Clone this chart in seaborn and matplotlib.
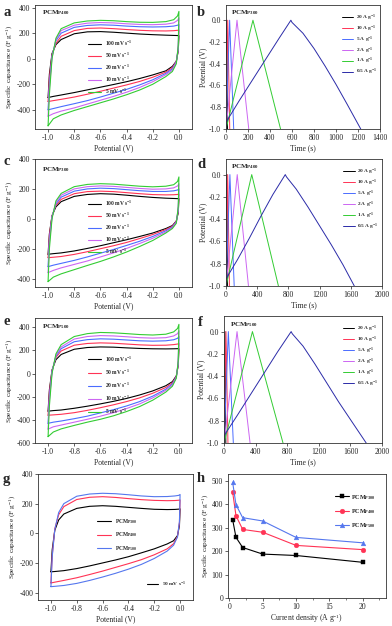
import numpy as np
import pandas as pd
import matplotlib
matplotlib.use("Agg")
import matplotlib.pyplot as plt
from matplotlib.ticker import MultipleLocator
import seaborn as sns

# --------------------------------------------------
# DATA
# --------------------------------------------------
# CV potentials: forward (upper) branch and reverse (lower) branch
E_UP = [-1.0, -0.99, -0.97, -0.94, -0.9, -0.8, -0.7, -0.6, -0.5, -0.4, -0.3, -0.2, -0.1, -0.04, -0.01, 0.0]
E_DN = [0.0, -0.005, -0.02, -0.05, -0.1, -0.2, -0.3, -0.4, -0.5, -0.6, -0.7, -0.8, -0.9, -0.96, -1.0]

scanRates = ["100", "50", "20", "10", "5"]
cvColors = ["#000000", "#ff3355", "#4a6cff", "#cc66f2", "#33cc33"]

# panel a (PCM P400)
cvA_up = [
    [-304, -120, 40, 110, 150, 195, 210, 212, 207, 200, 193, 188, 184, 182, 181, 180],
    [-335, -150, 30, 120, 175, 220, 237, 240, 235, 228, 222, 218, 217, 219, 222, 225],
    [-400, -200, 20, 140, 200, 245, 260, 265, 262, 255, 250, 248, 250, 255, 262, 268],
    [-450, -230, 10, 150, 220, 262, 278, 283, 280, 273, 268, 266, 270, 280, 300, 320],
    [-525, -280, 0, 160, 235, 280, 295, 300, 297, 290, 285, 284, 290, 305, 335, 370],
]
cvA_dn = [
    [180, 60, -20, -60, -95, -127, -155, -180, -202, -223, -244, -265, -284, -295, -304],
    [225, 70, -20, -70, -105, -145, -178, -205, -230, -255, -278, -300, -318, -328, -335],
    [268, 80, -25, -80, -115, -165, -205, -240, -270, -300, -328, -352, -375, -390, -400],
    [320, 90, -30, -90, -125, -180, -225, -262, -295, -325, -355, -385, -410, -430, -450],
    [370, 100, -40, -100, -140, -200, -245, -282, -315, -345, -375, -405, -440, -470, -525],
]
# panel c (PCM P300)
cvC_up = [
    [-237, -100, 20, 80, 115, 150, 163, 168, 165, 158, 150, 143, 138, 136, 135, 135],
    [-260, -110, 20, 90, 130, 168, 182, 185, 182, 175, 168, 162, 160, 161, 163, 165],
    [-320, -140, 15, 100, 145, 185, 200, 205, 202, 195, 188, 183, 183, 187, 193, 200],
    [-360, -160, 10, 110, 158, 200, 215, 220, 217, 210, 203, 198, 200, 207, 220, 235],
    [-420, -200, 0, 120, 170, 215, 230, 235, 232, 225, 218, 214, 218, 228, 250, 280],
]
cvC_dn = [
    [135, 40, -15, -45, -65, -95, -118, -140, -160, -180, -198, -215, -228, -233, -237],
    [165, 50, -15, -50, -72, -105, -132, -158, -180, -200, -220, -238, -252, -257, -260],
    [200, 60, -20, -55, -80, -118, -150, -178, -205, -230, -255, -278, -298, -310, -320],
    [235, 70, -25, -60, -88, -130, -165, -198, -228, -255, -282, -305, -328, -345, -360],
    [280, 80, -30, -65, -95, -145, -185, -222, -255, -285, -312, -340, -368, -390, -420],
]
# panel e (PCM P500)
cvE_up = [
    [-325, -140, 30, 120, 165, 210, 225, 230, 228, 222, 217, 214, 213, 214, 215, 215],
    [-360, -160, 25, 140, 195, 245, 260, 265, 262, 255, 248, 244, 245, 250, 255, 260],
    [-430, -200, 20, 150, 215, 275, 293, 300, 297, 290, 283, 280, 283, 292, 305, 320],
    [-480, -230, 10, 160, 230, 298, 320, 328, 325, 318, 310, 306, 310, 325, 345, 370],
    [-545, -280, 0, 170, 250, 320, 345, 355, 352, 345, 337, 333, 340, 360, 390, 425],
]
cvE_dn = [
    [215, 70, -20, -70, -105, -150, -185, -215, -240, -262, -282, -300, -315, -320, -325],
    [260, 80, -25, -80, -120, -170, -210, -242, -270, -295, -318, -338, -352, -357, -360],
    [320, 90, -30, -90, -135, -195, -242, -280, -312, -340, -368, -390, -410, -420, -430],
    [370, 100, -35, -100, -145, -210, -262, -302, -338, -368, -395, -420, -445, -460, -480],
    [425, 110, -40, -110, -160, -230, -285, -328, -365, -395, -420, -448, -478, -505, -545],
]
# panel g: 50 mV/s comparison of the three samples
cvG_up = [
    [-260, -110, 20, 90, 130, 168, 182, 186, 182, 175, 168, 162, 160, 161, 163, 165],
    [-335, -150, 30, 125, 180, 228, 243, 247, 242, 234, 227, 222, 220, 221, 223, 225],
    [-360, -160, 25, 140, 200, 250, 265, 270, 267, 260, 252, 247, 248, 252, 256, 262],
]
cvG_dn = [
    [165, 50, -15, -50, -72, -105, -132, -158, -180, -200, -220, -238, -252, -257, -260],
    [225, 70, -20, -70, -105, -145, -178, -205, -230, -255, -278, -300, -318, -328, -335],
    [262, 80, -25, -80, -120, -170, -210, -242, -270, -295, -318, -338, -352, -357, -360],
]
samples = ["P300", "P400", "P500"]
sampleColors = ["#000000", "#ff3355", "#5577ee"]

# GCD: currents, charge peak time and discharge end time (s)
currents = ["20", "10", "5", "2", "1", "0.5"]
gcdColors = ["#000000", "#ff3355", "#4a6cff", "#cc66f2", "#33cc33", "#2b2ba8"]
gcdB_peak = [6, 16, 33, 100, 245]
gcdB_end = [14, 34, 70, 207, 496]
gcdD_peak = [10, 22, 50, 144, 330]
gcdD_end = [20, 44, 105, 288, 672]
gcdF_peak = [12, 25, 55, 165, 360]
gcdF_end = [23, 50, 118, 330, 747]
# 0.5 A/g curves (slightly curved)
slowB_t = [0, 5, 120, 240, 360, 480, 590, 600, 700, 800, 900, 1000, 1100, 1225]
slowB_v = [-1.0, -0.93, -0.74, -0.55, -0.36, -0.17, 0.0, -0.02, -0.12, -0.26, -0.42, -0.59, -0.77, -1.0]
slowD_t = [0, 5, 150, 300, 450, 600, 760, 775, 900, 1050, 1200, 1350, 1500, 1645]
slowD_v = [-1.0, -0.93, -0.76, -0.57, -0.37, -0.18, 0.0, -0.02, -0.13, -0.29, -0.46, -0.63, -0.81, -1.0]
slowF_t = [0, 5, 170, 340, 510, 680, 850, 865, 1000, 1150, 1300, 1450, 1620, 1800]
slowF_v = [-1.0, -0.93, -0.75, -0.56, -0.37, -0.18, 0.0, -0.02, -0.13, -0.29, -0.46, -0.63, -0.81, -1.0]

# rate capability
currentDensity = [0.5, 1, 2, 5, 10, 20]
capP300 = [333, 258, 215, 187, 181, 152]
capP400 = [450, 350, 292, 280, 224, 206]
capP500 = [492, 397, 342, 328, 258, 235]

# --------------------------------------------------
# STYLE
# --------------------------------------------------
sns.set_theme(style="ticks")
plt.rcParams["font.family"] = ["Liberation Serif", "DejaVu Serif"]
plt.rcParams["mathtext.fontset"] = "custom"
plt.rcParams["mathtext.rm"] = "Liberation Serif"
plt.rcParams["mathtext.bf"] = "Liberation Serif:bold"
plt.rcParams["mathtext.it"] = "Liberation Serif:italic"
plt.rcParams["axes.unicode_minus"] = False

W, H = 392, 626
fig = plt.figure(figsize=(W / 100, H / 100), dpi=100)


def addAxes(left, right, top, bottom):
    return fig.add_axes([left / W, 1 - bottom / H, (right - left) / W, (bottom - top) / H])


def styleAxes(ax):
    for s in ax.spines.values():
        s.set_linewidth(0.6)
        s.set_color("#333333")
    ax.tick_params(labelsize=5.5, width=0.5, length=2, pad=1.5, direction="out", colors="#222222")
    ax.tick_params(which="minor", width=0.4, length=1.2, direction="out", colors="#222222")


def cvPanel(ax, ups, dns, labels, colors, ylim, yticks):
    for up, dn, lab, col in zip(ups, dns, labels, colors):
        df = pd.DataFrame({"E": E_UP + E_DN, "j": up + dn})
        sns.lineplot(data=df, x="E", y="j", sort=False, estimator=None, color=col,
                     lw=0.8, ax=ax, label=lab)
    ax.set_xlim(-1.1, 0.1)
    ax.set_xticks([-1.0, -0.8, -0.6, -0.4, -0.2, 0.0])
    ax.set_xticklabels(["-1.0", "-0.8", "-0.6", "-0.4", "-0.2", "0.0"])
    ax.set_ylim(*ylim)
    ax.set_yticks(yticks)
    ax.set_xlabel("Potential (V)", fontsize=5.5, labelpad=2)
    ax.set_ylabel("Specific capacitance (F g$^{-1}$)", fontsize=5.3, labelpad=1.5)
    styleAxes(ax)


def gcdPanel(ax, peaks, ends, slowT, slowV, xmax, xstep):
    for pk, en, cur, col in zip(peaks, ends, currents[:-1], gcdColors[:-1]):
        df = pd.DataFrame({"t": [0, pk, en], "V": [-1.0, 0.0, -1.0]})
        sns.lineplot(data=df, x="t", y="V", sort=False, estimator=None, color=col,
                     lw=0.7, ax=ax, label=cur + " A g$^{\\mathbf{-1}}$")
    df = pd.DataFrame({"t": slowT, "V": slowV})
    sns.lineplot(data=df, x="t", y="V", sort=False, estimator=None, color=gcdColors[-1],
                 lw=0.7, ax=ax, label=currents[-1] + " A g$^{\\mathbf{-1}}$")
    ax.set_xlim(0, xmax)
    ax.set_xticks(np.arange(0, xmax + 1, xstep))
    ax.set_ylim(-1.0, 0.14)
    ax.set_yticks([-1.0, -0.8, -0.6, -0.4, -0.2, 0.0])
    ax.set_yticklabels(["-1.0", "-0.8", "-0.6", "-0.4", "-0.2", "0.0"])
    ax.set_xlabel("Time (s)", fontsize=5.5, labelpad=2)
    ax.set_ylabel("Potential (V)", fontsize=5.5, labelpad=1.5)
    styleAxes(ax)
    ax.legend(loc="upper left", bbox_to_anchor=(0.75, 0.94), frameon=False,
              prop={"size": 3.8, "weight": "bold"}, handlelength=2.2, handletextpad=0.5,
              labelspacing=0.12, borderpad=0, borderaxespad=0)


cvLabels = [r + " mV s$^{\\mathbf{-1}}$" for r in scanRates]
cvLegend = dict(loc="upper left", frameon=False, prop={"size": 4.0, "weight": "bold"},
                handlelength=2.2, handletextpad=0.8, borderpad=0, borderaxespad=0)

# a
axA = addAxes(35, 192, 5, 129)
cvPanel(axA, cvA_up, cvA_dn, cvLabels, cvColors, (-550, 420), [-400, -200, 0, 200, 400])
axA.legend(bbox_to_anchor=(0.34, 0.73), labelspacing=0.5, **cvLegend)
axA.text(0.045, 0.975, r"PCM$_{\mathbf{P400}}$", transform=axA.transAxes, fontsize=5,
         fontweight="bold", va="top")

# b
axB = addAxes(226, 380, 5, 129)
gcdPanel(axB, gcdB_peak, gcdB_end, slowB_t, slowB_v, 1400, 200)
axB.text(0.035, 0.975, r"PCM$_{\mathbf{P300}}$", transform=axB.transAxes, fontsize=5,
         fontweight="bold", va="top")

# c
axC = addAxes(35, 192, 159, 287)
cvPanel(axC, cvC_up, cvC_dn, cvLabels, cvColors, (-456, 400), [-400, -200, 0, 200, 400])
axC.legend(bbox_to_anchor=(0.34, 0.69), labelspacing=0.5, **cvLegend)
axC.text(0.045, 0.95, r"PCM$_{\mathbf{P300}}$", transform=axC.transAxes, fontsize=5,
         fontweight="bold", va="top")

# d
axD = addAxes(226, 382, 159, 286)
gcdPanel(axD, gcdD_peak, gcdD_end, slowD_t, slowD_v, 2000, 400)
axD.text(0.035, 0.975, r"PCM$_{\mathbf{P400}}$", transform=axD.transAxes, fontsize=5,
         fontweight="bold", va="top")

# e
axE = addAxes(35, 192, 318, 443)
cvPanel(axE, cvE_up, cvE_dn, cvLabels, cvColors, (-600, 480), [-600, -400, -200, 0, 200, 400])
axE.legend(bbox_to_anchor=(0.34, 0.71), labelspacing=0.7, **cvLegend)
axE.text(0.045, 0.97, r"PCM$_{\mathbf{P500}}$", transform=axE.transAxes, fontsize=5,
         fontweight="bold", va="top")

# f
axF = addAxes(224, 382, 316, 443)
gcdPanel(axF, gcdF_peak, gcdF_end, slowF_t, slowF_v, 2000, 400)
axF.text(0.04, 0.97, r"PCM$_{\mathbf{P500}}$", transform=axF.transAxes, fontsize=5,
         fontweight="bold", va="top")

# g
axG = addAxes(38, 193, 474, 600)
sampleLabels = ["PCM$_{\\mathbf{" + s + "}}$" for s in samples]
cvPanel(axG, cvG_up, cvG_dn, sampleLabels, sampleColors, (-450, 400), [-400, -200, 0, 200, 400])
legG = axG.legend(loc="upper left", bbox_to_anchor=(0.38, 0.66), frameon=False,
                  prop={"size": 4.0, "weight": "bold"}, handlelength=2.6, handletextpad=0.7,
                  labelspacing=0.85, borderpad=0, borderaxespad=0)
axG.add_artist(legG)
rateLine = plt.Line2D([], [], color="#000000", lw=0.8)
axG.legend([rateLine], ["50 mV s$^{\\mathbf{-1}}$"], loc="upper left", bbox_to_anchor=(0.70, 0.16),
           frameon=False, prop={"size": 3.8, "weight": "bold"}, handlelength=2.2,
           handletextpad=0.7, borderpad=0, borderaxespad=0)

# h
axH = addAxes(228, 386, 474, 598)
rateDf = pd.DataFrame({
    "x": currentDensity * 3,
    "y": capP300 + capP400 + capP500,
    "s": sum([[lab] * len(currentDensity) for lab in sampleLabels], []),
})
sns.lineplot(data=rateDf, x="x", y="y", hue="s", style="s", palette=sampleColors,
             markers=["s", "o", "^"], dashes=False, lw=0.8, markersize=3.4, ax=axH)
for ln in axH.lines:
    ln.set_markeredgecolor(ln.get_color())
    ln.set_markeredgewidth(0.3)
axH.set_xlim(-0.2, 23.5)
axH.set_xticks([0, 5, 10, 15, 20])
axH.xaxis.set_minor_locator(MultipleLocator(2.5))
axH.set_ylim(0, 528)
axH.set_yticks([0, 100, 200, 300, 400, 500])
axH.set_xlabel("Current density (A g$^{-1}$)", fontsize=5.5, labelpad=1)
axH.set_ylabel("Specific capacitance (F g$^{-1}$)", fontsize=5.3, labelpad=1.5)
styleAxes(axH)
legH = axH.legend(loc="upper left", bbox_to_anchor=(0.68, 0.85), frameon=False, title=None,
                  prop={"size": 4.4, "weight": "bold"}, handlelength=2.2, handletextpad=0.4,
                  labelspacing=0.85, borderpad=0, borderaxespad=0)
for hd in legH.legend_handles:
    hd.set_markeredgecolor(hd.get_color())

# panel letters
for letter, px, py in [("a", 3, 12), ("b", 197, 12), ("c", 3, 162), ("d", 197, 164),
                       ("e", 3, 321), ("f", 198, 322), ("g", 3, 480), ("h", 197, 478)]:
    fig.text(px / W, 1 - py / H, letter, fontsize=10.5, fontweight="bold", va="center", ha="left")

fig.savefig("out.png", dpi=100, facecolor="white")
